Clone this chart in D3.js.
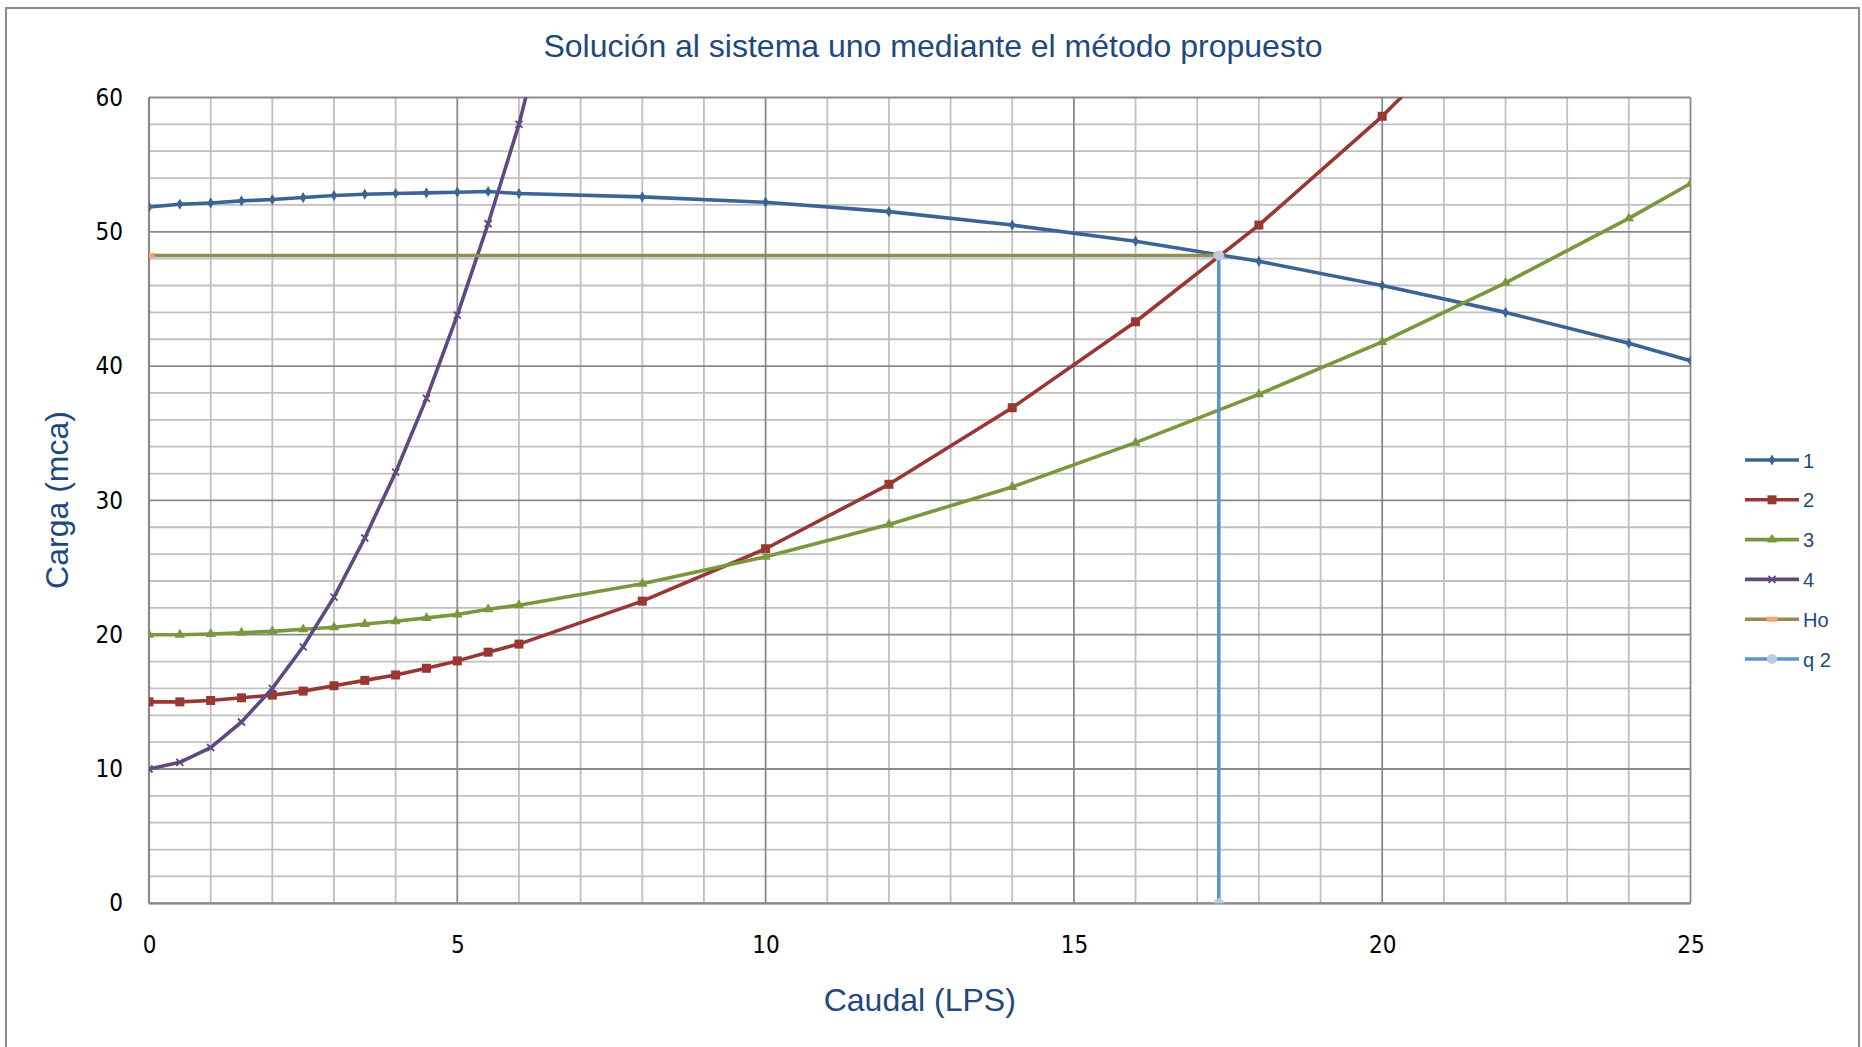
<!DOCTYPE html>
<html>
<head>
<meta charset="utf-8">
<script src="https://cdn.jsdelivr.net/npm/d3@7"></script>
<style>
  body { margin: 0; background: #ffffff; }
  svg { display: block; }
</style>
</head>
<body>
<script>
// chart data
var xQ = [0, 0.5, 1, 1.5, 2, 2.5, 3, 3.5, 4, 4.5, 5, 5.5, 6, 8, 10, 12, 14, 16, 18, 20, 22, 24, 25];
var curve1 = [51.85, 52.05, 52.15, 52.3, 52.4, 52.55, 52.7, 52.8, 52.85, 52.9, 52.95, 53.0, 52.85, 52.6, 52.2, 51.5, 50.5, 49.3, 47.8, 46.0, 44.0, 41.7, 40.4];
var xQ2 = [0, 0.5, 1, 1.5, 2, 2.5, 3, 3.5, 4, 4.5, 5, 5.5, 6, 8, 10, 12, 14, 16, 18, 20, 22];
var curve2 = [15.0, 15.0, 15.1, 15.3, 15.5, 15.8, 16.2, 16.6, 17.0, 17.5, 18.05, 18.7, 19.3, 22.5, 26.4, 31.2, 36.9, 43.3, 50.5, 58.6, 67.8];
var curve3 = [20.0, 20.0, 20.05, 20.15, 20.25, 20.4, 20.55, 20.8, 21.0, 21.25, 21.5, 21.9, 22.2, 23.8, 25.8, 28.2, 31.0, 34.3, 37.9, 41.8, 46.2, 51.0, 53.6];
var xQ4 = [0, 0.5, 1, 1.5, 2, 2.5, 3, 3.5, 4, 4.5, 5, 5.5, 6, 8];
var curve4 = [10.0, 10.5, 11.6, 13.5, 16.0, 19.1, 22.8, 27.2, 32.1, 37.6, 43.8, 50.6, 58.0, 94.4];
var xHo = [0, 17.35];
var yHo = [48.24, 48.24];
var xq2 = [17.35, 17.35];
var yq2 = [0, 48.24];
var seriesNames = ["1", "2", "3", "4", "Ho", "q 2"];
var xTicks = [0, 5, 10, 15, 20, 25];
var yTicks = [0, 10, 20, 30, 40, 50, 60];

// dimensions
var width = 1862;
var height = 1047;
var plotLeft = 149, plotRight = 1690.5, plotTop = 97.5, plotBottom = 903.3;

var colors = ["#3b6496", "#993735", "#7a973e", "#5e4a80", "#958b55", "#5b93d8"];
var markColors = ["#3b6496", "#993735", "#7a973e", "#5e4a80", "#f8a36b", "#b9cde5"];
var markType = ["diamond", "square", "triangle", "cross", "dash", "circle"];
var textBlue = "#1f497d";

function zip(xs, ys) {
  return xs.map(function(x, i) { return [x, ys[i]]; });
}

var series = [
  zip(xQ, curve1),
  zip(xQ2, curve2),
  zip(xQ, curve3),
  zip(xQ4, curve4),
  zip(xHo, yHo),
  zip(xq2, yq2)
];

var xScale = d3.scaleLinear().domain([0, 25]).range([plotLeft, plotRight]);
var yScale = d3.scaleLinear().domain([0, 60]).range([plotBottom, plotTop]);

var svg = d3.select("body")
  .append("svg")
  .attr("width", width)
  .attr("height", height);

// chart frame
svg.append("rect")
  .attr("x", 6).attr("y", 8)
  .attr("width", 1853).attr("height", 1060)
  .attr("fill", "#ffffff")
  .attr("stroke", "#8c8c8c")
  .attr("stroke-width", 2);

// clip for the curves running off the top
svg.append("clipPath").attr("id", "plotclip")
  .append("rect")
  .attr("x", plotLeft).attr("y", plotTop)
  .attr("width", plotRight - plotLeft).attr("height", plotBottom - plotTop);

// minor grid
var grid = svg.append("g");
d3.range(0, 26, 1).forEach(function(v) {
  if (v % 5 === 0) return;
  grid.append("line")
    .attr("x1", xScale(v)).attr("x2", xScale(v))
    .attr("y1", plotTop).attr("y2", plotBottom)
    .attr("stroke", "#c0c0c0").attr("stroke-width", 1.8);
});
d3.range(0, 61, 2).forEach(function(v) {
  if (v % 10 === 0) return;
  grid.append("line")
    .attr("x1", plotLeft).attr("x2", plotRight)
    .attr("y1", yScale(v)).attr("y2", yScale(v))
    .attr("stroke", "#c0c0c0").attr("stroke-width", 1.8);
});
// major grid
xTicks.forEach(function(v) {
  grid.append("line")
    .attr("x1", xScale(v)).attr("x2", xScale(v))
    .attr("y1", plotTop).attr("y2", plotBottom)
    .attr("stroke", "#8a8a8a").attr("stroke-width", 1.8);
});
yTicks.forEach(function(v) {
  grid.append("line")
    .attr("x1", plotLeft).attr("x2", plotRight)
    .attr("y1", yScale(v)).attr("y2", yScale(v))
    .attr("stroke", "#8a8a8a").attr("stroke-width", 1.8);
});

// axes, only the labels are kept
var xAxis = svg.append("g")
  .attr("transform", "translate(0," + plotBottom + ")")
  .call(d3.axisBottom(xScale).tickValues(xTicks).tickSize(0).tickPadding(33));
var yAxis = svg.append("g")
  .attr("transform", "translate(" + plotLeft + ",0)")
  .call(d3.axisLeft(yScale).tickValues(yTicks).tickSize(0).tickPadding(26));
[xAxis, yAxis].forEach(function(ax) {
  ax.select(".domain").remove();
  ax.selectAll("text")
    .attr("fill", "#000000")
    .style("font-family", "'Liberation Sans Narrow', 'DejaVu Sans Condensed', sans-serif")
    .style("font-size", "24px");
});
svg.append("line")
  .attr("x1", plotLeft).attr("x2", plotRight).attr("y1", plotBottom).attr("y2", plotBottom)
  .attr("stroke", "#8a8a8a").attr("stroke-width", 2.2);
svg.append("line")
  .attr("x1", plotLeft).attr("x2", plotLeft).attr("y1", plotTop).attr("y2", plotBottom)
  .attr("stroke", "#8a8a8a").attr("stroke-width", 2.2);

// marker shapes
function drawMarker(g, type, cx, cy, color) {
  if (type === "diamond") {
    g.append("path").attr("d", d3.symbol(d3.symbolDiamond, 36)())
      .attr("transform", "translate(" + cx + "," + cy + ")").attr("fill", color);
  } else if (type === "square") {
    g.append("rect").attr("x", cx - 4.5).attr("y", cy - 4.5)
      .attr("width", 9).attr("height", 9).attr("fill", color);
  } else if (type === "triangle") {
    g.append("path").attr("d", d3.symbol(d3.symbolTriangle, 46)())
      .attr("transform", "translate(" + cx + "," + cy + ")").attr("fill", color);
  } else if (type === "cross") {
    g.append("path").attr("d", "M-3.5,-3.5L3.5,3.5M-3.5,3.5L3.5,-3.5")
      .attr("transform", "translate(" + cx + "," + cy + ")")
      .attr("stroke", color).attr("stroke-width", 1.8).attr("fill", "none");
  } else if (type === "dash") {
    g.append("rect").attr("x", cx - 5.5).attr("y", cy - 2.5)
      .attr("width", 11).attr("height", 5).attr("fill", color);
  } else {
    g.append("circle").attr("cx", cx).attr("cy", cy).attr("r", 5).attr("fill", color);
  }
}

// draw the series
var line = d3.line()
  .x(function(d) { return xScale(d[0]); })
  .y(function(d) { return yScale(d[1]); });

var plot = svg.append("g").attr("clip-path", "url(#plotclip)");
series.forEach(function(data, i) {
  plot.append("path")
    .datum(data)
    .attr("d", line)
    .attr("fill", "none")
    .attr("stroke", colors[i])
    .attr("stroke-width", 3.6)
    .attr("stroke-linejoin", "round");
  data.forEach(function(d) {
    drawMarker(plot, markType[i], xScale(d[0]), yScale(d[1]), markColors[i]);
  });
});

// titles
svg.append("text")
  .attr("x", 933).attr("y", 57)
  .attr("text-anchor", "middle")
  .attr("fill", textBlue)
  .style("font-family", "'Liberation Sans', Arial, sans-serif")
  .style("font-size", "32px")
  .text("Solución al sistema uno mediante el método propuesto");

svg.append("text")
  .attr("x", (plotLeft + plotRight) / 2).attr("y", 1011)
  .attr("text-anchor", "middle")
  .attr("fill", textBlue)
  .style("font-family", "'Liberation Sans', Arial, sans-serif")
  .style("font-size", "32px")
  .text("Caudal (LPS)");

svg.append("text")
  .attr("text-anchor", "middle")
  .attr("transform", "translate(" + [68, 500] + ") rotate(-90)")
  .attr("fill", textBlue)
  .style("font-family", "'Liberation Sans', Arial, sans-serif")
  .style("font-size", "32px")
  .text("Carga (mca)");

// legend
var legend = svg.selectAll(".legend")
  .data(seriesNames)
  .enter()
  .append("g")
  .attr("class", "legend")
  .attr("transform", function(d, i) { return "translate(0," + (460 + i * 39.8) + ")"; });

legend.append("line")
  .attr("x1", 1745).attr("x2", 1799)
  .attr("y1", 0).attr("y2", 0)
  .attr("stroke", function(d, i) { return colors[i]; })
  .attr("stroke-width", 3.6);

legend.each(function(d, i) {
  drawMarker(d3.select(this), markType[i], 1772, 0, markColors[i]);
});

legend.append("text")
  .attr("x", 1803).attr("y", 7.5)
  .attr("fill", textBlue)
  .style("font-family", "'Liberation Sans', Arial, sans-serif")
  .style("font-size", "20px")
  .text(function(d) { return d; });
</script>
</body>
</html>
